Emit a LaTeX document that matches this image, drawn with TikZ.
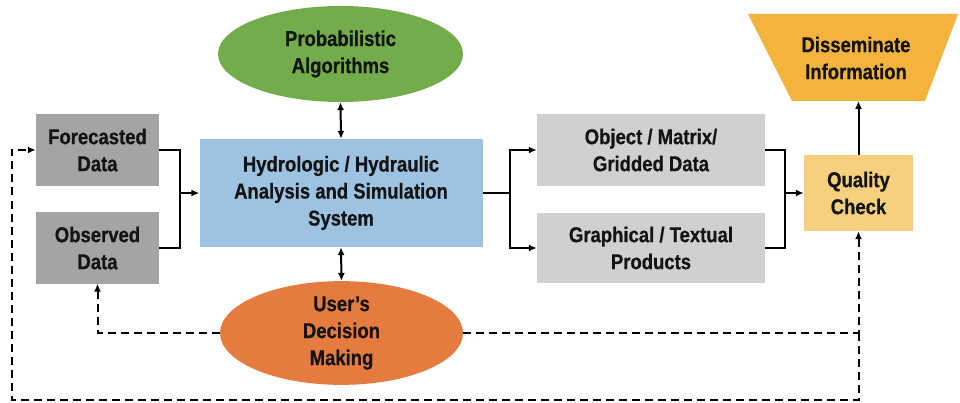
\documentclass[tikz,border=0pt]{standalone}
\usepackage{fontspec}
\setmainfont[FakeStretch=0.86,BoldFeatures={FakeBold=0.6}]{Liberation Sans}
\usetikzlibrary{shapes.geometric,arrows.meta}
\definecolor{dgray}{HTML}{A3A4A6}
\definecolor{lgray}{HTML}{D0D0D1}
\definecolor{hblue}{HTML}{9EC3E2}
\definecolor{pgreen}{HTML}{72AC4B}
\definecolor{uorange}{HTML}{E67B40}
\definecolor{qyellow}{HTML}{F6D07F}
\definecolor{dgold}{HTML}{F3B33C}
\begin{document}
\begin{tikzpicture}[x=1pt,y=-1pt,
  txt/.style={font=\fontsize{21.5}{27}\selectfont\bfseries, text=black!92, align=center},
  boxnode/.style={txt, draw=none, inner sep=0pt},
  conn/.style={line width=2pt, black},
  arr/.style={conn, -{Latex[length=8pt,width=7pt]}},
  darr/.style={conn, {Latex[length=8pt,width=7pt]}-{Latex[length=8pt,width=7pt]}},
  dsh/.style={conn, dash pattern=on 8pt off 5pt}
]
\useasboundingbox (0,0) rectangle (960,403);
\fill[white] (0,0) rectangle (960,403);

% boxes
\node[boxnode, fill=dgray, minimum width=123pt, minimum height=72pt] (fc) at (97.5,150) {Forecasted\\Data};
\node[boxnode, fill=dgray, minimum width=123pt, minimum height=71pt] (obs) at (97.5,248) {Observed\\Data};
\node[boxnode, fill=hblue, minimum width=283pt, minimum height=108pt] (hyd) at (341,193) {Hydrologic / Hydraulic\\Analysis and Simulation\\System};
\node[boxnode, fill=lgray, minimum width=228pt, minimum height=72pt] (obj) at (651,150) {Object / Matrix/\\Gridded Data};
\node[boxnode, fill=lgray, minimum width=228pt, minimum height=70pt] (gra) at (651,248) {Graphical / Textual\\Products};
\node[boxnode, fill=qyellow, minimum width=109pt, minimum height=76pt] (qc) at (858.5,193) {Quality\\Check};

% ellipses
\node[boxnode, ellipse, fill=pgreen, minimum width=245pt, minimum height=96pt] (prob) at (340.5,54) {Probabilistic\\Algorithms};
\node[boxnode, ellipse, fill=uorange, minimum width=243pt, minimum height=98pt] (user) at (341.5,333) {User's\\Decision\\Making};

% trapezoid
\fill[dgold] (748,14) -- (958,14) -- (925,101) -- (792,101) -- cycle;
\node[boxnode] (dis) at (856,58) {Disseminate\\Information};
\coordinate (disb) at (858.5,101);

% junctions
\coordinate (jL) at (180,193);
\coordinate (jM) at (510,193);
\coordinate (jR) at (785,193);
\coordinate (jQ) at (858.5,333);
\coordinate (bl) at (12,400);

% solid connectors
\draw[conn] (fc.east) -| (jL) |- (obs.east);
\draw[arr] (jL) -- (hyd.west);
\draw[conn] (hyd.east) -- (jM);
\draw[arr] (jM) |- (obj.west);
\draw[arr] (jM) |- (gra.west);
\draw[conn] (obj.east) -| (jR) |- (gra.east);
\draw[arr] (jR) -- (qc.west);
\draw[arr] (qc.north) -- (disb);
\draw[darr] (prob.south) -- (hyd.north);
\draw[darr] (hyd.south) -- (user.north);

% dashed connectors
\draw[dsh, -{Latex[length=8pt,width=7pt]}] (user.west) -| (obs.south);
\draw[dsh, -{Latex[length=8pt,width=7pt]}] (user.east) -| (qc.south);
\draw[dsh, -{Latex[length=8pt,width=7pt]}] (jQ) |- (bl) |- (fc.west);
\end{tikzpicture}
\end{document}
